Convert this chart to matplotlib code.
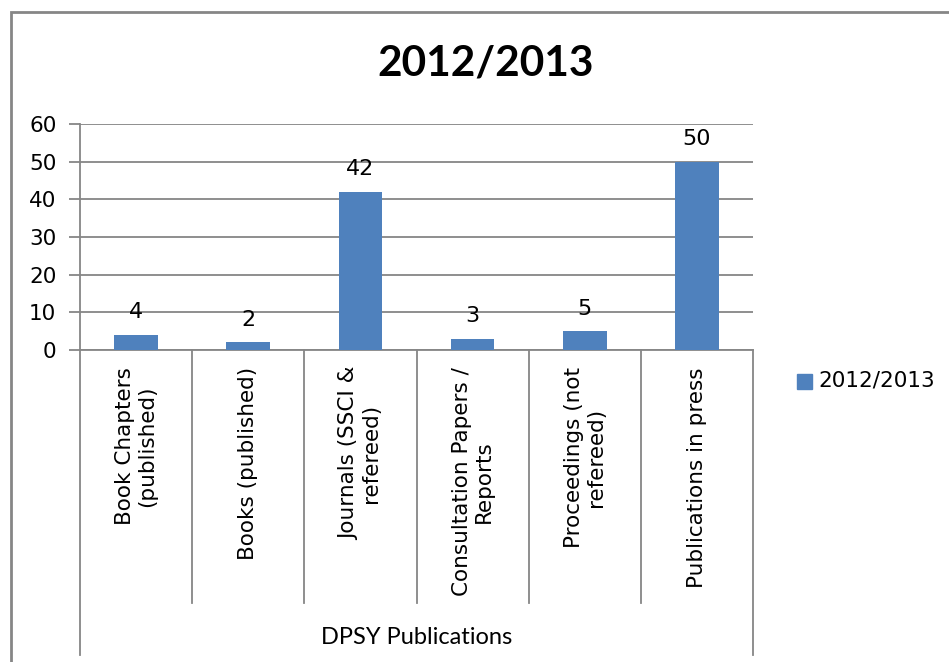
import matplotlib.pyplot as plt
from matplotlib.patches import Rectangle
import numpy as np

categories = ['Book Chapters\n(published)', 'Books (published)', 'Journals (SSCI &\nrefereed)',
              'Consultation Papers /\nReports', 'Proceedings (not\nrefereed)', 'Publications in press']
values = [4, 2, 42, 3, 5, 50]
series_name = '2012/2013'
group_label = 'DPSY Publications'

W, H = 949, 662
bar_color = '#4F81BD'
grid_color = '#868686'

fig = plt.figure(figsize=(W / 100, H / 100), dpi=100)

# axes box in pixels: x 80..753, y 124..350
x0, x1, ytop, ybot = 80, 753, 124, 350
ax = fig.add_axes([x0 / W, 1 - ybot / H, (x1 - x0) / W, (ybot - ytop) / H])

n = len(categories)
x = np.arange(n)
ax.bar(x, values, width=0.39, color=bar_color, zorder=3)
ax.set_xlim(-0.5, n - 0.5)
ax.set_ylim(0, 60)
ax.set_yticks(range(0, 61, 10))
ax.tick_params(axis='y', length=8, color=grid_color, width=1.3, labelsize=15.5, pad=9)
ax.set_xticks([])
ax.yaxis.grid(True, color=grid_color, linewidth=1.3, zorder=0)
for s in ['top', 'right']:
    ax.spines[s].set_visible(False)
for s in ['left', 'bottom']:
    ax.spines[s].set_color(grid_color)
    ax.spines[s].set_linewidth(1.3)
for lab in ax.get_yticklabels():
    lab.set_fontfamily('DejaVu Sans')

for xi, v in zip(x, values):
    ax.annotate(str(v), (xi, v), xytext=(0, 9), textcoords='offset points',
                ha='center', va='bottom', fontsize=16, family='DejaVu Sans')

# category separators below the axis
px_per_cat = (x1 - x0) / n
for i in range(n + 1):
    xp = (x0 + i * px_per_cat) / W
    y_end = 655 if i in (0, n) else 603
    fig.add_artist(plt.Line2D([xp, xp], [1 - ybot / H, 1 - y_end / H],
                              color=grid_color, linewidth=1.3))

for i, cat in enumerate(categories):
    xc = (x0 + (i + 0.5) * px_per_cat) / W
    fig.text(xc, 1 - 367 / H, cat, rotation=90, ha='center', va='top',
             multialignment='center', fontsize=15.5, family='DejaVu Sans', linespacing=1.1)

fig.text((x0 + x1) / 2 / W, 1 - 638 / H, group_label, ha='center', va='center',
         fontsize=17, family='Lato')

fig.text(486 / W, 1 - 63 / H, series_name, ha='center', va='center',
         fontsize=30.5, fontweight='bold', family='Lato')

# legend
fig.add_artist(Rectangle((797 / W, 1 - 389 / H), 15 / W, 15 / H, color=bar_color,
                         transform=fig.transFigure))
fig.text(818 / W, 1 - 381 / H, series_name, ha='left', va='center',
         fontsize=15.5, family='DejaVu Sans')

# outer chart frame
fig.add_artist(Rectangle((11 / W, -0.1), 1.0, 1 - 12 / H + 0.1, fill=False,
                         edgecolor=grid_color, linewidth=2, transform=fig.transFigure))

fig.savefig('out.png', dpi=100)
